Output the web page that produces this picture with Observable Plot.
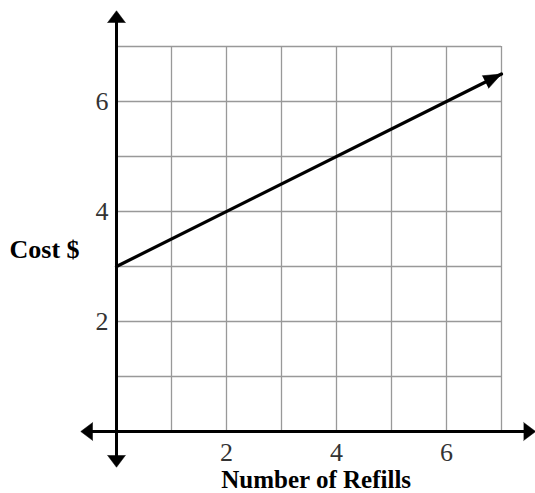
<!DOCTYPE html>
<html>
<head>
<meta charset="utf-8">
<script src="https://cdn.jsdelivr.net/npm/d3@7"></script>
<script src="https://cdn.jsdelivr.net/npm/@observablehq/plot@0.6"></script>
<style>
  html, body { margin: 0; padding: 0; background: #fff; }
  #chart { width: 535px; height: 493px; }
  #chart svg text { font-family: 'Liberation Serif', 'Times New Roman', serif; }
</style>
</head>
<body>
<div id="chart"></div>
<script>
// ---- data ----
const refills = [0, 7];          // x values of the cost line
const costs = [3, 6.5];          // y values of the cost line
const gridValues = [1, 2, 3, 4, 5, 6, 7];
const xTickLabels = [2, 4, 6];
const yTickLabels = [2, 4, 6];
const xAxisExtent = [-0.65, 7.62]; // axis arrow tips (data units)
const yAxisExtent = [-0.65, 7.65];
const xLabel = "Number of Refills";
const yLabel = "Cost $";

// ---- layout ----
const W = 535, H = 493;
const mL = 116, mR = 34, mT = 46, mB = 62;
const pxX = (W - mL - mR) / 7, pxY = (H - mT - mB) / 7;
const serif = "'Liberation Serif', 'Times New Roman', serif";

const line = refills.map((x, i) => ({x, y: costs[i]}));
const last = line[line.length - 1], prev = line[line.length - 2];
const lineAngle = Math.atan2((last.x - prev.x) * pxX, (last.y - prev.y) * pxY) * 180 / Math.PI;

const AH = 12; // axis arrowhead length in px
const axisHeads = [
  {x: 0, y: yAxisExtent[1], rotate: 0},
  {x: 0, y: yAxisExtent[0], rotate: 180},
  {x: xAxisExtent[0], y: 0, rotate: 270},
  {x: xAxisExtent[1], y: 0, rotate: 90}
];

const chart = Plot.plot({
  width: W, height: H,
  marginLeft: mL, marginRight: mR, marginTop: mT, marginBottom: mB,
  x: {domain: [0, 7], axis: null},
  y: {domain: [0, 7], axis: null},
  style: {fontFamily: serif, background: "#fff"},
  marks: [
    // grid
    Plot.ruleX(gridValues, {y1: 0, y2: 7, stroke: "#999", strokeWidth: 1.3}),
    Plot.ruleY(gridValues, {x1: 0, x2: 7, stroke: "#999", strokeWidth: 1.3}),
    // axes
    Plot.ruleY([0], {x1: xAxisExtent[0] + AH / pxX * 0.8, x2: xAxisExtent[1] - AH / pxX * 0.8, stroke: "#000", strokeWidth: 3}),
    Plot.ruleX([0], {y1: yAxisExtent[0] + AH / pxY * 0.8, y2: yAxisExtent[1] - AH / pxY * 0.8, stroke: "#000", strokeWidth: 3}),
    Plot.vector(axisHeads, {x: "x", y: "y", rotate: "rotate", length: AH, r: 9, shape: "spike", anchor: "end", fill: "#000", stroke: "#000", strokeWidth: 0.5}),
    // tick labels
    Plot.text(xTickLabels, {x: d => d, y: 0, text: d => String(d), dy: 21, fontSize: 26, fontFamily: serif, fill: "#333"}),
    Plot.text(yTickLabels, {x: 0, y: d => d, text: d => String(d), dx: -8, textAnchor: "end", fontSize: 26, fontFamily: serif, fill: "#333"}),
    // cost line
    Plot.line(line, {x: "x", y: "y", stroke: "#000", strokeWidth: 3.2}),
    Plot.vector([last], {x: "x", y: "y", rotate: lineAngle, length: 18, r: 7, shape: "spike", anchor: "end", fill: "#000", stroke: "#000", strokeWidth: 0.5}),
    // axis titles
    Plot.text([xLabel], {x: 3.63, y: 0, text: d => d, dy: 56, lineAnchor: "bottom", fontSize: 25, fontWeight: "bold", fontFamily: serif, fill: "#000"}),
    Plot.text([yLabel], {x: 0, y: 3.3, text: d => d, dx: -107, textAnchor: "start", fontSize: 26, fontWeight: "bold", fontFamily: serif, fill: "#000"})
  ]
});
document.getElementById("chart").appendChild(chart);
</script>
</body>
</html>
